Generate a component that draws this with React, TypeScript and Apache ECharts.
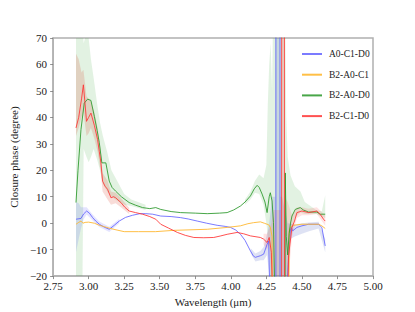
import React, { useEffect, useRef } from "react";
import * as echarts from "echarts";

// ---- tick labels / axes ----
const xTicks = [2.75, 3.0, 3.25, 3.5, 3.75, 4.0, 4.25, 4.5, 4.75, 5.0];
const yTicks = [-20, -10, 0, 10, 20, 30, 40, 50, 60, 70];
const seriesNames = ["A0-C1-D0", "B2-A0-C1", "B2-A0-D0", "B2-C1-D0"];

// ---- A0-C1-D0 (blue) ----
const blueX = [2.911, 2.946, 2.965, 2.986, 3.005, 3.028, 3.05, 3.075, 3.11, 3.145, 3.18, 3.215, 3.26, 3.309, 3.36, 3.402, 3.45, 3.507, 3.58, 3.647, 3.7, 3.764, 3.83, 3.904, 3.96, 3.998, 4.035, 4.068, 4.1, 4.138, 4.16, 4.173, 4.19, 4.208, 4.231, 4.255, 4.266, 4.28, 4.316, 4.318, 4.345, 4.347, 4.395, 4.407, 4.418, 4.425, 4.435, 4.465, 4.5, 4.547, 4.617, 4.64, 4.664];
const blueY = [1.5, 1.8, 3.5, 4.6, 3.8, 2.1, 0.8, -0.4, -1.5, -2.3, -0.8, 0.8, 2.2, 3.0, 3.6, 3.6, 3.4, 2.7, 2.5, 2.1, 1.6, 0.8, 0, -0.8, -1.2, -1.6, -2.6, -4.2, -6.5, -10.5, -12.5, -12.9, -12.6, -12.3, -11.7, -8, -6.7, -40, -400, 400, 400, -400, -25, -12, -2.9, -1.6, -2.9, -1.6, -1.0, -0.4, -0.4, -1.6, -8.6];

// ---- B2-A0-C1 (orange) ----
const orangeX = [2.911, 2.93, 2.946, 2.96, 2.975, 3.0, 3.04, 3.075, 3.11, 3.145, 3.2, 3.25, 3.35, 3.47, 3.6, 3.72, 3.834, 3.974, 4.068, 4.12, 4.16, 4.208, 4.235, 4.266, 4.278, 4.29, 4.33, 4.395, 4.41, 4.418, 4.44, 4.5, 4.547, 4.617, 4.64, 4.664];
const orangeY = [-0.4, 0.3, 0.8, 0.0, 0.3, 0.4, 0, -0.8, -1.3, -1.9, -2.6, -3.2, -3.2, -3.2, -2.7, -2.5, -2.3, -1.6, -1.0, -0.2, 0.2, 0.5, 0.0, -0.6, -1.6, -5, -400, -400, -3, -1.6, -0.8, -0.4, -0.4, -0.4, -1.0, -2.0];

// ---- B2-A0-D0 (green) ----
const greenX = [2.911, 2.925, 2.946, 2.969, 2.993, 3.016, 3.04, 3.06, 3.075, 3.093, 3.121, 3.145, 3.165, 3.19, 3.23, 3.285, 3.33, 3.379, 3.43, 3.472, 3.507, 3.58, 3.647, 3.75, 3.834, 3.92, 3.974, 4.02, 4.068, 4.1, 4.138, 4.165, 4.185, 4.2, 4.22, 4.24, 4.255, 4.27, 4.278, 4.29, 4.3, 4.32, 4.337, 4.37, 4.383, 4.39, 4.4, 4.41, 4.42, 4.43, 4.453, 4.488, 4.51, 4.547, 4.605, 4.628, 4.664];
const greenY = [7.8, 20, 35.4, 45.4, 46.9, 46.4, 40.4, 35, 30.4, 22.8, 22.8, 15.9, 13.5, 12.1, 10, 7.8, 6.8, 5.9, 5.5, 5.9, 5.2, 4.4, 4.0, 3.8, 3.6, 3.8, 4.0, 5.0, 6.5, 8.0, 10.3, 13, 14.3, 13.5, 11, 8, 4.0, 10, 11.5, 8.4, 0.2, -60, -400, -400, 19, -5, -12, -4, 0, 2.7, 5.2, 5.9, 5.0, 4.2, 4.2, 3.4, 3.4];

// ---- B2-C1-D0 (red) ----
const redX = [2.911, 2.93, 2.95, 2.963, 2.975, 2.985, 3.0, 3.016, 3.04, 3.063, 3.075, 3.086, 3.098, 3.115, 3.133, 3.157, 3.175, 3.19, 3.227, 3.255, 3.285, 3.33, 3.379, 3.43, 3.472, 3.507, 3.56, 3.624, 3.68, 3.74, 3.81, 3.88, 3.93, 3.974, 4.044, 4.09, 4.138, 4.208, 4.23, 4.255, 4.27, 4.285, 4.3, 4.355, 4.36, 4.376, 4.378, 4.4, 4.406, 4.43, 4.448, 4.465, 4.5, 4.547, 4.605, 4.628, 4.652, 4.664];
const redY = [36, 40, 47, 52.3, 45, 38.5, 40, 41.6, 37, 31.6, 27, 23, 15.9, 14, 12.8, 9.6, 10, 9.6, 7.8, 6, 4.6, 4.0, 3.4, 2.5, 1.5, -0.4, -1.8, -3.5, -4.6, -5.4, -5.5, -5.4, -4.8, -4.2, -3.5, -4.0, -4.8, -5.4, -6.0, -7.3, -5.4, -11, -40, -400, 400, 400, -400, -30, -12.3, -1.6, 0.8, 4.0, 4.6, 4.0, 4.6, 3.4, 1.5, 0.8];

// ---- uncertainty bands: wavelength, lower, upper ----
const greenBandAX = [2.911, 2.94, 2.955, 2.965, 2.985, 3.0, 3.016, 3.035, 3.06, 3.08, 3.1, 3.13, 3.16, 3.2, 3.25, 3.3, 3.4];
const greenBandALo = [-30, -30, -30, 28, 25, 23, 25, 28, 24, 20, 15, 12, 10, 8.5, 7, 6.5, 5];
const greenBandAHi = [90, 90, 75, 68, 72, 70, 62, 55, 45, 38, 33, 27, 20, 16, 11, 9, 7];

const redBandAX = [2.911, 2.93, 2.95, 2.963, 2.985, 3.0, 3.016, 3.04, 3.063, 3.086, 3.098, 3.133, 3.157, 3.19, 3.227, 3.285];
const redBandALo = [33, 36, 40, 42, 33, 34, 36, 32, 27, 19, 12, 9, 7, 7.5, 6, 3.5];
const redBandAHi = [64, 62, 57, 58, 48, 47, 46, 42, 36, 27, 19, 16, 12, 11.5, 9.5, 5.7];

const blueBandAX = [2.911, 2.93, 2.946, 2.965, 2.986, 3.028, 3.075, 3.145, 3.215];
const blueBandALo = [-11, -6, -2, 1.5, 3.3, 1, -1.4, -3.3, 0];
const blueBandAHi = [8, 7.5, 6, 6, 6, 3.3, 0.6, -1.3, 1.6];

const greenBandBX = [4.1, 4.138, 4.17, 4.2, 4.23, 4.25, 4.26, 4.27, 4.28, 4.29, 4.3, 4.32, 4.38, 4.39, 4.4, 4.42, 4.45, 4.49, 4.52, 4.6, 4.64, 4.664];
const greenBandBLo = [7, 9, 11.5, 11, 7, 0, -5, -10, -30, -30, -30, -30, -30, -30, -20, -5, 2, 4, 3.5, 3.5, 2.5, 2];
const greenBandBHi = [9, 12, 16, 18.4, 17, 22, 45, 60, 68, 50, 90, 90, 90, 40, 25, 18, 14, 12, 8, 5, 4.5, 10.6];

const blueBandBX = [4.14, 4.173, 4.208, 4.231, 4.255, 4.27, 4.29, 4.312, 4.313, 4.348, 4.349, 4.36, 4.4, 4.418, 4.45, 4.5, 4.55, 4.617, 4.664];
const blueBandBLo = [-11.5, -14.5, -14, -14, -12, -20, -30, -30, -300, -300, -30, -30, -25, -6, -5, -4, -3, -2, -11];
const blueBandBHi = [-9.5, -11.5, -10.5, -9, -4, 0, 10, 10, 300, 300, 10, 10, 0, 0, -0.5, 0, 0.3, 0.5, -6];

const redBandBX = [4.23, 4.255, 4.27, 4.285, 4.3, 4.354, 4.355, 4.378, 4.379, 4.4, 4.43, 4.465, 4.5, 4.547, 4.605, 4.664];
const redBandBLo = [-8, -10, -8, -20, -45, -45, -300, -300, -30, -25, -5, 2, 3, 3, 3.5, -1];
const redBandBHi = [-4, -4, -2, 0, 5, 5, 300, 300, 10, 8, 3, 6, 6, 5.5, 6, 3];

const BLUE = "rgba(90,90,255,0.8)";
const ORANGE = "rgba(255,184,50,0.9)";
const GREEN = "rgba(40,150,40,0.85)";
const RED = "rgba(255,50,50,0.85)";

function pairs(xs: number[], ys: number[]) {
  return xs.map((x, i) => [x, ys[i]]);
}

function bandSeries(xs: number[], lo: number[], hi: number[], fill: string) {
  return {
    type: "custom",
    clip: true,
    silent: true,
    z: 1,
    data: xs.map((x, i) => [x, lo[i], hi[i]]),
    encode: { x: 0, y: [1, 2] },
    renderItem: (params: any, api: any) => {
      if (params.dataIndex !== 0) return null;
      const top = xs.map((x, i) => api.coord([x, hi[i]]));
      const bot = xs.map((x, i) => api.coord([x, lo[i]])).reverse();
      return {
        type: "polygon",
        shape: { points: top.concat(bot) },
        style: { fill, stroke: "none" },
      };
    },
  };
}

function lineSeries(name: string, xs: number[], ys: number[], color: string) {
  return {
    name,
    type: "line",
    data: pairs(xs, ys),
    showSymbol: false,
    symbol: "none",
    clip: true,
    z: 3,
    lineStyle: { color, width: 1 },
    itemStyle: { color },
  };
}

export default function App() {
  const ref = useRef<HTMLDivElement>(null);
  useEffect(() => {
    if (!ref.current) return;
    const chart = echarts.init(ref.current, undefined, { renderer: "svg" });
    const font = "'Liberation Serif', 'DejaVu Serif', serif";
    chart.setOption({
      animation: false,
      backgroundColor: "#ffffff",
      textStyle: { fontFamily: font },
      grid: {
        left: 52,
        right: 42,
        top: 38,
        bottom: 35,
        show: true,
        borderColor: "#b0b0b0",
        borderWidth: 1.5,
        backgroundColor: "transparent",
      },
      legend: {
        data: seriesNames,
        orient: "vertical",
        left: 297,
        top: 44,
        itemWidth: 20,
        itemHeight: 2,
        itemGap: 10.7,
        icon: "rect",
        textStyle: { fontFamily: font, fontSize: 9.5, color: "#222", padding: [0, 0, 0, 2] },
      },
      xAxis: {
        type: "value",
        min: 2.75,
        max: 5.0,
        interval: 0.25,
        name: "Wavelength (μm)",
        nameLocation: "middle",
        nameGap: 19,
        nameTextStyle: { fontFamily: font, fontSize: 11, color: "#222" },
        axisLine: { show: true, onZero: false, lineStyle: { color: "#b0b0b0", width: 1.5 } },
        axisTick: { show: true, inside: false, length: 3, lineStyle: { color: "#777", width: 0.8 } },
        axisLabel: {
          fontFamily: font,
          fontSize: 11,
          color: "#222",
          margin: 4,
          formatter: (v: number) => (xTicks.includes(Number(v.toFixed(2))) ? v.toFixed(2) : ""),
        },
        splitLine: { show: false },
      },
      yAxis: {
        type: "value",
        min: -20,
        max: 70,
        interval: 10,
        name: "Closure phase (degree)",
        nameLocation: "middle",
        nameGap: 30,
        nameTextStyle: { fontFamily: font, fontSize: 11, color: "#222" },
        axisLine: { show: true, onZero: false, lineStyle: { color: "#b0b0b0", width: 1.5 } },
        axisTick: { show: true, inside: false, length: 3, lineStyle: { color: "#777", width: 0.8 } },
        axisLabel: {
          fontFamily: font,
          fontSize: 11,
          color: "#222",
          margin: 6,
          formatter: (v: number) =>
            yTicks.includes(v) ? (v < 0 ? "\u2212" + Math.abs(v) : String(v)) : "",
        },
        splitLine: { show: false },
      },
      series: [
        bandSeries(greenBandAX, greenBandALo, greenBandAHi, "rgba(60,170,60,0.15)"),
        bandSeries(redBandAX, redBandALo, redBandAHi, "rgba(220,80,60,0.2)"),
        bandSeries(blueBandAX, blueBandALo, blueBandAHi, "rgba(90,90,255,0.16)"),
        bandSeries(greenBandBX, greenBandBLo, greenBandBHi, "rgba(60,170,60,0.15)"),
        bandSeries(blueBandBX, blueBandBLo, blueBandBHi, "rgba(90,110,200,0.2)"),
        bandSeries(redBandBX, redBandBLo, redBandBHi, "rgba(255,80,80,0.16)"),
        lineSeries(seriesNames[0], blueX, blueY, BLUE),
        lineSeries(seriesNames[1], orangeX, orangeY, ORANGE),
        lineSeries(seriesNames[2], greenX, greenY, GREEN),
        lineSeries(seriesNames[3], redX, redY, RED),
      ],
    });
    return () => chart.dispose();
  }, []);
  return (
    <div
      ref={ref}
      style={{ position: "fixed", left: 0, top: 0, width: 415, height: 312, background: "#fff" }}
    />
  );
}
